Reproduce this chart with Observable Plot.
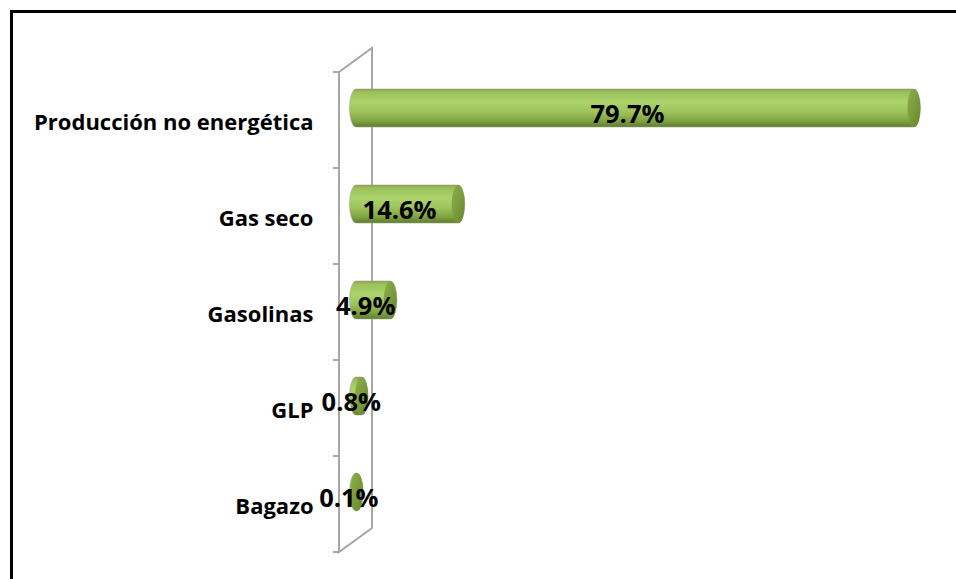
<!DOCTYPE html>
<html>
<head>
<meta charset="utf-8">
<script src="https://cdn.jsdelivr.net/npm/d3@7"></script>
<script src="https://cdn.jsdelivr.net/npm/@observablehq/plot@0.6"></script>
<style>
  html, body { margin: 0; padding: 0; background: #fff; overflow: hidden; }
  #wrap { position: relative; width: 956px; height: 579px; }
  #frame { position: absolute; left: 10px; top: 10px; width: 960px; height: 600px;
           border-left: 3px solid #000; border-top: 3px solid #000; box-sizing: border-box; pointer-events: none; }
  svg { display: block; overflow: visible; }
</style>
</head>
<body>
<div id="wrap"><div id="frame"></div></div>
<script>
const categories = ["Producción no energética", "Gas seco", "Gasolinas", "GLP", "Bagazo"];
const values = [79.7, 14.6, 4.9, 0.8, 0.1];
const valueLabels = ["79.7%", "14.6%", "4.9%", "0.8%", "0.1%"];

const data = categories.map((c, i) => ({cat: c, value: values[i], label: valueLabels[i]}));
const font = "'Open Sans', Lato, sans-serif";

function wall(index, scales, vals, dims) {
  const x0 = scales.x(0);
  const top = dims.marginTop, bottom = dims.height - dims.marginBottom;
  const front = x0 - 17, back = x0 + 16, depth = 24;
  const g = d3.create("svg:g").attr("fill", "none").attr("stroke", "#a6a6a6").attr("stroke-width", 2);
  g.append("path").attr("d",
    `M${front},${top}V${bottom}L${back},${bottom - depth}V${top - depth}L${front},${top}`);
  const ys = categories.map(c => scales.y(c)).concat([bottom]);
  for (const y of ys) g.append("line").attr("x1", front - 6).attr("x2", front).attr("y1", y).attr("y2", y);
  return g.node();
}

const chart = Plot.plot({
  width: 956,
  height: 579,
  marginLeft: 356,
  marginRight: 5,
  marginTop: 72,
  marginBottom: 27,
  style: {background: "transparent", fontFamily: font, overflow: "visible"},
  x: {domain: [0, 85], axis: null},
  y: {domain: categories, padding: 0, axis: null, round: false},
  marks: [
    wall,
    Plot.barX(data, {x1: 0, x2: "value", y: "cat", insetTop: 29, insetBottom: 29, insetLeft: -6.5, insetRight: -6.5,
      rx: 6.5, ry: 19, dy: -12, fill: "url(#cylBody)", stroke: "#9aa08f", strokeWidth: 0.8, strokeOpacity: 0.7}),
    Plot.barX(data, {x1: "value", x2: "value", y: "cat", insetTop: 29, insetBottom: 29, insetLeft: -6.5, insetRight: -6.5,
      rx: 6.5, ry: 19, dy: -12, fill: "url(#cylCap)"}),
    Plot.text(data, {x: 0, y: "cat", text: "cat", textAnchor: "end", dx: -43, dy: 2,
      fontSize: 22, fontWeight: "bold", fill: "#000", fontFamily: font}),
    Plot.text(data, {x: d => d.value / 2, y: "cat", text: "label", textAnchor: "middle", dx: -8, dy: -6,
      fontSize: 25.5, fontWeight: "bold", fill: "#000", fontFamily: font})
  ]
});

const svg = d3.select(chart);
const defs = svg.insert("defs", ":first-child");
const gb = defs.append("linearGradient").attr("id", "cylBody").attr("x1", 0).attr("y1", 0).attr("x2", 0).attr("y2", 1);
[[0, "#86a24b"], [0.08, "#9cc15a"], [0.35, "#abd26b"], [0.6, "#9fc45c"], [0.85, "#7ea03f"], [1, "#5f7d2b"]]
  .forEach(([o, c]) => gb.append("stop").attr("offset", o).attr("stop-color", c));
const gc = defs.append("linearGradient").attr("id", "cylCap").attr("x1", 0).attr("y1", 0).attr("x2", 1).attr("y2", 1);
[[0, "#8eae4c"], [0.5, "#7b9c3c"], [1, "#66862f"]]
  .forEach(([o, c]) => gc.append("stop").attr("offset", o).attr("stop-color", c));

document.getElementById("wrap").prepend(chart);
</script>
</body>
</html>
